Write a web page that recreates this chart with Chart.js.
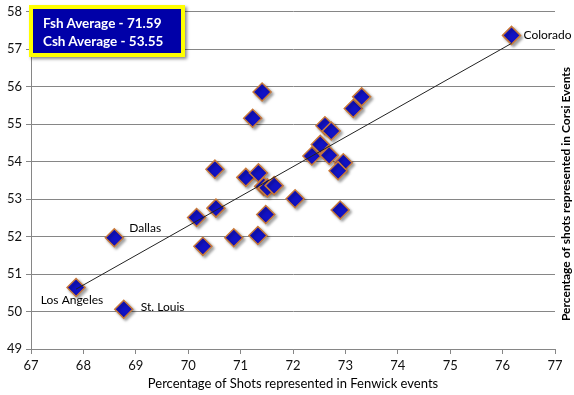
<!DOCTYPE html>
<html>
<head>
<meta charset="utf-8">
<script src="https://cdn.jsdelivr.net/npm/chart.js@4.4.1/dist/chart.umd.min.js"></script>
<style>
  html, body { margin: 0; padding: 0; background: #fff; }
  #wrap { position: relative; width: 574px; height: 395px; }
  #avgBox {
    position: absolute; left: 29px; top: 5px; width: 156px; height: 52px;
    box-sizing: border-box; padding: 5px 0 0 10px;
    background: #0000a8; border: 4px solid #ffff00;
    box-shadow: 2px 2px 3px rgba(0,0,0,0.45);
    color: #fff; font: bold 13.5px Lato, sans-serif; line-height: 18px;
  }
</style>
</head>
<body>
<div id="wrap">
  <canvas id="chart" width="574" height="395"></canvas>
  <div id="avgBox"><div id="fshLine"></div><div id="cshLine"></div></div>
</div>
<script>
// Fenwick % (x) vs Corsi % (y), one point per team
const fenwick = [76.17, 67.86, 68.59, 68.77, 70.16, 70.28, 70.53, 70.51, 70.87, 71.10,
                 71.23, 71.41, 71.34, 71.33, 71.44, 71.51, 71.64, 71.48, 72.04, 72.36,
                 72.52, 72.61, 72.73, 72.69, 72.96, 72.86, 72.90, 73.15, 73.31];
const corsi   = [57.37, 50.64, 51.97, 50.06, 52.51, 51.74, 52.76, 53.80, 51.97, 53.58,
                 55.16, 55.86, 53.70, 52.03, 53.34, 53.30, 53.36, 52.59, 53.01, 54.15,
                 54.46, 54.96, 54.82, 54.17, 53.97, 53.76, 52.71, 55.42, 55.73];
const teamLabels = ['Colorado', 'Los Angeles', 'Dallas', 'St. Louis'];  // first four points
const xTicks = [67, 68, 69, 70, 71, 72, 73, 74, 75, 76, 77];
const yTicks = [49, 50, 51, 52, 53, 54, 55, 56, 57, 58];
const fshAvg = '71.59';
const cshAvg = '53.55';

document.getElementById('fshLine').textContent = 'Fsh Average - ' + fshAvg;
document.getElementById('cshLine').textContent = 'Csh Average - ' + cshAvg;

const points = fenwick.map((x, i) => ({ x: x, y: corsi[i] }));

// least squares trend line across the data range
const n = fenwick.length;
const mx = fenwick.reduce((a, b) => a + b, 0) / n;
const my = corsi.reduce((a, b) => a + b, 0) / n;
let sxy = 0, sxx = 0;
for (let i = 0; i < n; i++) {
  sxy += (fenwick[i] - mx) * (corsi[i] - my);
  sxx += (fenwick[i] - mx) * (fenwick[i] - mx);
}
const slope = sxy / sxx;
const x0 = Math.min(...fenwick), x1 = Math.max(...fenwick);
const trend = [x0, x1].map(x => ({ x: x, y: my + slope * (x - mx) }));

// label placement relative to the point (pixels)
const labelPos = [
  { dx: 12, dy: 0, align: 'left' },
  { dx: -4, dy: 13, align: 'center' },
  { dx: 15, dy: -10, align: 'left' },
  { dx: 17, dy: -2, align: 'left' }
];

const FONT = 'Lato, sans-serif';

const extras = {
  id: 'extras',
  beforeDatasetDraw(chart, args) {
    if (args.index === 1) {
      const ctx = chart.ctx;
      ctx.save();
      ctx.shadowColor = 'rgba(0,0,0,0.35)';
      ctx.shadowOffsetX = 2;
      ctx.shadowOffsetY = 2;
      ctx.shadowBlur = 3;
    }
  },
  afterDatasetDraw(chart, args) {
    if (args.index === 1) chart.ctx.restore();
  },
  afterDraw(chart) {
    const ctx = chart.ctx;
    const meta = chart.getDatasetMeta(1);
    ctx.save();
    ctx.fillStyle = '#000';
    ctx.font = '12px ' + FONT;
    ctx.textBaseline = 'middle';
    teamLabels.forEach((t, i) => {
      const el = meta.data[i];
      const p = labelPos[i];
      ctx.textAlign = p.align;
      ctx.fillText(t, el.x + p.dx, el.y + p.dy);
    });
    // right side axis title, reading bottom to top
    ctx.translate(566, 194);
    ctx.rotate(-Math.PI / 2);
    ctx.textAlign = 'center';
    ctx.font = 'bold 12px ' + FONT;
    ctx.fillText('Percentage of shots represented in Corsi Events', 0, 0);
    ctx.restore();
  }
};

new Chart(document.getElementById('chart'), {
  type: 'scatter',
  data: {
    datasets: [
      {
        data: trend,
        showLine: true,
        borderColor: '#222',
        borderWidth: 1,
        pointRadius: 0,
        order: 0
      },
      {
        data: points,
        pointStyle: 'rectRot',
        pointRadius: 9,
        pointHoverRadius: 9,
        backgroundColor: '#1212c4',
        borderColor: '#c8793a',
        borderWidth: 1.5,
        order: 1
      }
    ]
  },
  options: {
    responsive: false,
    animation: false,
    events: [],
    layout: { padding: { top: 7, right: 19, left: 0, bottom: 0 } },
    plugins: { legend: { display: false }, tooltip: { enabled: false } },
    scales: {
      x: {
        type: 'linear',
        min: xTicks[0],
        max: xTicks[xTicks.length - 1],
        afterFit: s => { s.height = 46; },
        afterBuildTicks: s => { s.ticks = xTicks.map(v => ({ value: v })); },
        grid: { drawOnChartArea: false, drawTicks: true, tickLength: 5, color: '#868686' },
        border: { display: true, color: '#868686' },
        ticks: { color: '#111', font: { family: FONT, size: 13 }, padding: 4 },
        title: {
          display: true,
          text: 'Percentage of Shots represented in Fenwick events',
          color: '#000',
          font: { family: FONT, size: 13 },
          padding: { top: 0, bottom: 3 }
        }
      },
      y: {
        type: 'linear',
        min: yTicks[0],
        max: yTicks[yTicks.length - 1],
        afterFit: s => { s.width = 31; },
        afterBuildTicks: s => { s.ticks = yTicks.map(v => ({ value: v })); },
        grid: { drawOnChartArea: true, drawTicks: true, tickLength: 5, color: '#868686' },
        border: { display: true, color: '#868686' },
        ticks: { color: '#111', font: { family: FONT, size: 13 }, padding: 4 }
      }
    }
  },
  plugins: [extras]
});
</script>
</body>
</html>
